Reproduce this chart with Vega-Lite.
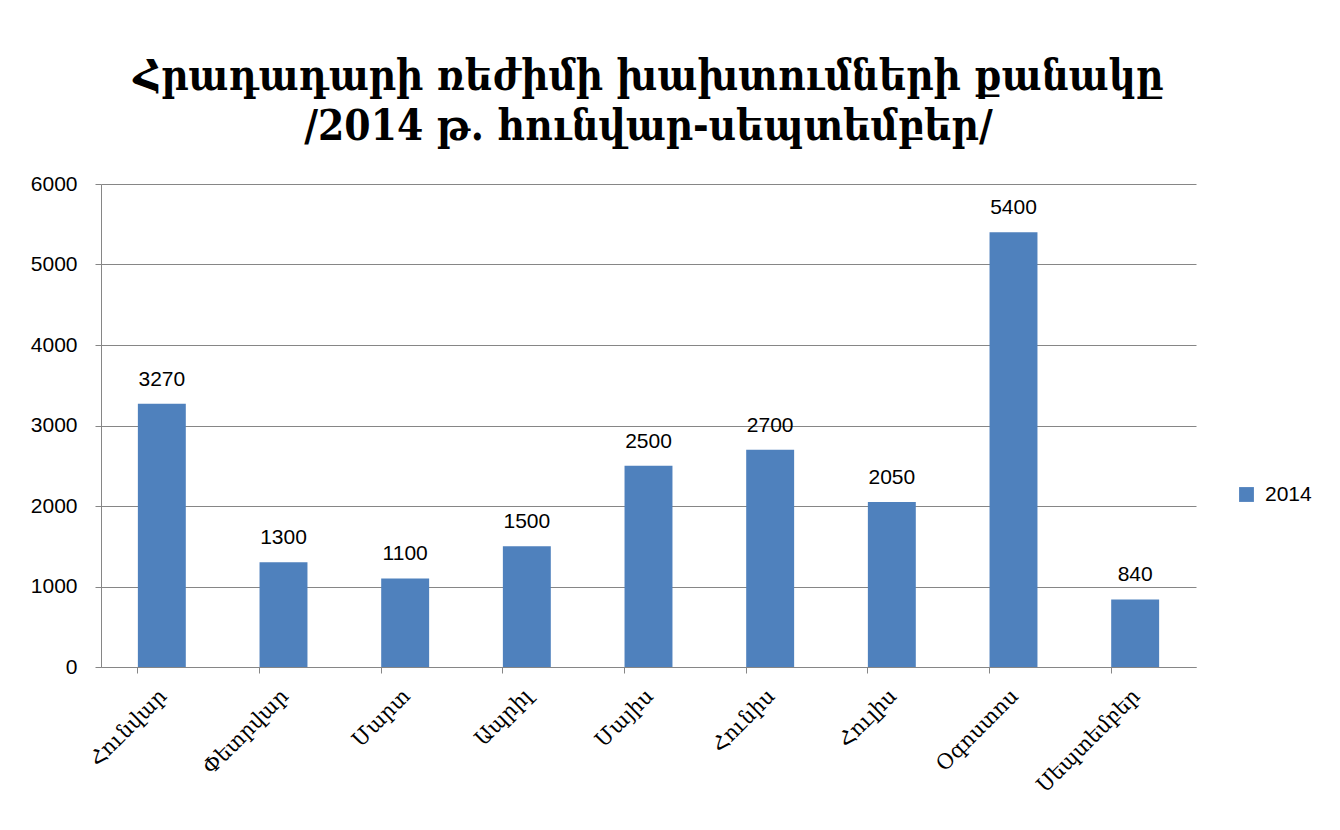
{
  "$schema": "https://vega.github.io/schema/vega-lite/v6.json",
  "width": 1095,
  "height": 483,
  "autosize": {"type": "none"},
  "padding": {"left": 101, "top": 184, "right": 144, "bottom": 163},
  "background": "white",
  "title": {
    "text": ["Հրադադարի ռեժիմի խախտումների քանակը", "/2014 թ. հունվար-սեպտեմբեր/"],
    "font": "DejaVu Serif Condensed, DejaVu Serif",
    "fontSize": 42,
    "fontWeight": "bold",
    "color": "#000000",
    "anchor": "middle",
    "lineHeight": 50,
    "offset": 24
  },
  "data": {
    "values": [
      {"month": "Հունվար", "value": 3270, "series": "2014"},
      {"month": "Փետրվար", "value": 1300, "series": "2014"},
      {"month": "Մարտ", "value": 1100, "series": "2014"},
      {"month": "Ապրիլ", "value": 1500, "series": "2014"},
      {"month": "Մայիս", "value": 2500, "series": "2014"},
      {"month": "Հունիս", "value": 2700, "series": "2014"},
      {"month": "Հուլիս", "value": 2050, "series": "2014"},
      {"month": "Օգոստոս", "value": 5400, "series": "2014"},
      {"month": "Սեպտեմբեր", "value": 840, "series": "2014"}
    ]
  },
  "encoding": {
    "x": {
      "field": "month",
      "type": "nominal",
      "sort": null,
      "scale": {"paddingInner": 0.606, "paddingOuter": 0.303},
      "axis": {
        "title": null,
        "labelAngle": -45,
        "labelFont": "DejaVu Serif",
        "labelFontSize": 21,
        "labelColor": "#000000",
        "labelPadding": 12,
        "labelOffset": -6,
        "bandPosition": 0,
        "ticks": true,
        "tickSize": 6,
        "tickColor": "#868686",
        "domainColor": "#868686",
        "grid": false
      }
    },
    "y": {
      "field": "value",
      "type": "quantitative",
      "scale": {"domain": [0, 6000], "nice": false},
      "axis": {
        "title": null,
        "values": [0, 1000, 2000, 3000, 4000, 5000, 6000],
        "format": "d",
        "labelFont": "Liberation Sans",
        "labelFontSize": 21,
        "labelColor": "#000000",
        "labelPadding": 18,
        "tickSize": 6,
        "tickColor": "#868686",
        "domainColor": "#868686",
        "gridColor": "#868686",
        "gridWidth": 1
      }
    }
  },
  "layer": [
    {
      "mark": {"type": "bar", "color": "#4F81BD"},
      "encoding": {
        "color": {
          "field": "series",
          "type": "nominal",
          "scale": {"range": ["#4F81BD"]},
          "legend": {
            "title": null,
            "orient": "none",
            "legendX": 1135,
            "legendY": 300,
            "symbolType": "square",
            "symbolSize": 220,
            "symbolStrokeWidth": 0,
            "labelFont": "Liberation Sans",
            "labelFontSize": 21,
            "labelColor": "#000000",
            "labelOffset": 8
          }
        }
      }
    },
    {
      "mark": {"type": "text", "dy": -24, "font": "Liberation Sans", "fontSize": 21, "color": "#000000"},
      "encoding": {"text": {"field": "value", "type": "quantitative"}}
    }
  ],
  "config": {
    "view": {"stroke": null}
  }
}
